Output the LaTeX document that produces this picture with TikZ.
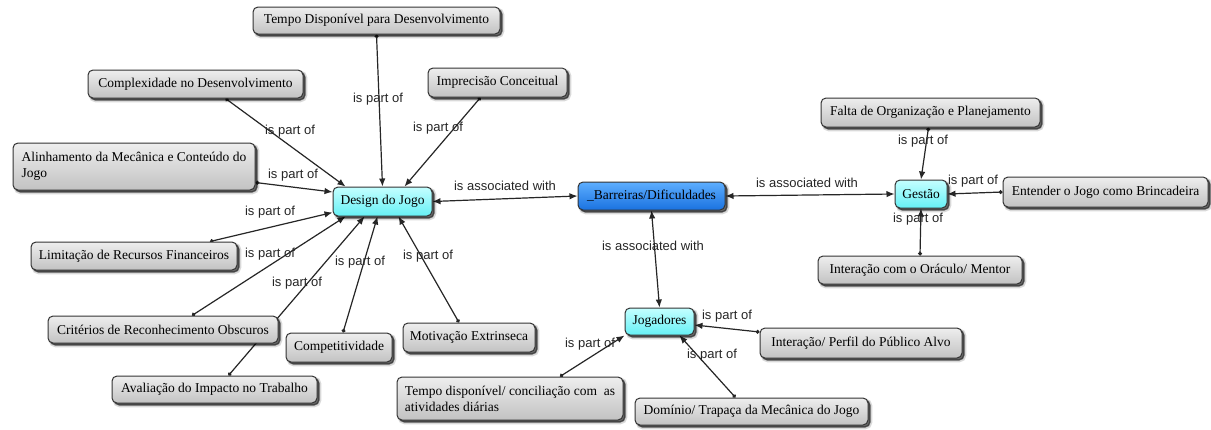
\documentclass[tikz,border=0pt]{standalone}
\usepackage{fontspec}
\usetikzlibrary{arrows.meta}
\newfontfamily\boxfamily{Liberation Serif}
\newfontfamily\lblfamily{Liberation Sans}
\pgfdeclarelayer{paper}
\pgfdeclarelayer{links}
\pgfsetlayers{paper,links,main}
\definecolor{grayTop}{HTML}{EEEEEE}
\definecolor{grayBot}{HTML}{C2C2C2}
\definecolor{cyanTop}{HTML}{C4FFFF}
\definecolor{cyanBot}{HTML}{66F0F5}
\definecolor{blueTop}{HTML}{5DAEFF}
\definecolor{blueBot}{HTML}{1A72E0}
\definecolor{edge}{HTML}{333333}
\tikzset{
  softshadow/.style={
    preaction={draw=black, draw opacity=0.15, line width=3.5pt,
      fill=black, fill opacity=0.3,
      transform canvas={shift={(2.5pt,-2.5pt)}}},
    preaction={draw=black, draw opacity=0.35, line width=1.2pt,
      fill=black, fill opacity=0.4,
      transform canvas={shift={(2pt,-2pt)}}}},
  concept/.style={rectangle, rounded corners=5pt, draw=edge, line width=1pt,
    softshadow, top color=grayTop, bottom color=grayBot,
    font=\boxfamily\fontsize{13.5}{16}\selectfont, text=black,
    inner sep=0pt, align=center},
  focus/.style={concept, top color=cyanTop, bottom color=cyanBot},
  hub/.style={concept, top color=blueTop, bottom color=blueBot},
  link/.style={line width=1.2pt, draw=black!85,
    {Circle[length=3.8pt]}-{Latex[length=8pt,width=6.5pt]}},
  twoway/.style={line width=1.2pt, draw=black!85,
    {Latex[length=8pt,width=6.5pt]}-{Latex[length=8pt,width=6.5pt]}},
  lbl/.style={font=\lblfamily\fontsize{13}{15}\selectfont, text=black!85, inner sep=0pt}
}
\begin{document}
\begin{tikzpicture}[x=1pt,y=-1pt]
\begin{pgfonlayer}{paper}
\fill[white] (0,0) rectangle (1211,429);
\end{pgfonlayer}
\useasboundingbox (0,0) rectangle (1211,429);

% concepts
\node[concept, minimum width=247pt, minimum height=27pt] (tdd) at (376.5,20.5) {Tempo Disponível para Desenvolvimento};
\node[concept, minimum width=215pt, minimum height=28pt] (cdd) at (195.5,84) {Complexidade no Desenvolvimento};
\node[concept, minimum width=139pt, minimum height=29pt] (imp) at (497.5,82.5) {Imprecisão Conceitual};
\node[concept, minimum width=242pt, minimum height=47pt, align=left] (ali) at (134,166.5) {Alinhamento da Mecânica e Conteúdo do\\Jogo};
\node[focus, minimum width=99pt, minimum height=29pt] (dj) at (382.5,201.5) {Design do Jogo};
\node[hub, minimum width=147pt, minimum height=28pt] (bar) at (651.5,196) {\_Barreiras/Dificuldades};
\node[focus, minimum width=52pt, minimum height=28pt] (ges) at (921,194) {Gestão};
\node[concept, minimum width=219pt, minimum height=29pt] (fop) at (930.5,112.5) {Falta de Organização e Planejamento};
\node[concept, minimum width=205pt, minimum height=30pt] (ejb) at (1105.5,192) {Entender o Jogo como Brincadeira};
\node[concept, minimum width=204pt, minimum height=28pt] (iom) at (920,270) {Interação com o Oráculo/ Mentor};
\node[concept, minimum width=206pt, minimum height=28pt] (lrf) at (134,256) {Limitação de Recursos Financeiros};
\node[concept, minimum width=230pt, minimum height=27pt] (cro) at (163,329.5) {Critérios de Reconhecimento Obscuros};
\node[concept, minimum width=106pt, minimum height=29pt] (com) at (339,347.5) {Competitividade};
\node[concept, minimum width=132pt, minimum height=29pt] (mot) at (469,337.5) {Motivação Extrinseca};
\node[concept, minimum width=205pt, minimum height=27pt] (ait) at (214.5,389.5) {Avaliação do Impacto no Trabalho};
\node[focus, minimum width=69pt, minimum height=27pt] (jog) at (659.5,321.5) {Jogadores};
\node[concept, minimum width=202pt, minimum height=30pt] (ipa) at (861,343) {Interação/ Perfil do Público Alvo};
\node[concept, minimum width=226pt, minimum height=43pt, align=left] (tdc) at (510,398.5) {Tempo disponível/ conciliação com~ as\\atividades diárias};
\node[concept, minimum width=233pt, minimum height=27pt] (dtm) at (751.5,411.5) {Domínio/ Trapaça da Mecânica do Jogo};

% connectors, drawn beneath the concepts
\begin{pgfonlayer}{links}
\draw[link] (tdd.south) -- (dj.north);
\draw[link] ([xshift=30pt]cdd.south) -- ([xshift=-37pt]dj.north);
\draw[link] ([xshift=-17pt]imp.south) -- ([xshift=22pt]dj.north);
\draw[link] ([yshift=-16pt]ali.east) -- ([yshift=9.5pt]dj.west);
\draw[link] ([xshift=76pt]lrf.north) -- ([yshift=-11pt]dj.west);
\draw[link] ([xshift=29pt]cro.north) -- ([xshift=-37pt]dj.south);
\draw[link] ([xshift=14pt]ait.north) -- ([xshift=-18pt]dj.south);
\draw[link] ([xshift=4pt]com.north) -- ([xshift=-5pt]dj.south);
\draw[link] ([xshift=-10pt]mot.north) -- ([xshift=16pt]dj.south);
\draw[twoway] (dj.east) -- (bar.west);
\draw[twoway] (bar.south) -- (jog.north);
\draw[twoway] (bar.east) -- (ges.west);
\draw[link] ([xshift=-2pt]fop.south) -- (ges.north);
\draw[link] (ejb.west) -- (ges.east);
\draw[link] (iom.north) -- (ges.south);
\draw[link] ([yshift=11pt]ipa.west) -- ([yshift=-3.5pt]jog.east);
\draw[link] ([xshift=-16pt]dtm.north) -- ([xshift=20pt]jog.south);
\draw[link] ([xshift=50pt]tdc.north) -- (jog.south west);
\end{pgfonlayer}

% link labels
\node[lbl] (l1) at (378,99) {is part of};
\node[lbl] (l2) at (290,131) {is part of};
\node[lbl] (l3) at (438,128) {is part of};
\node[lbl] (l4) at (293,175) {is part of};
\node[lbl] (l5) at (270,212) {is part of};
\node[lbl] (l6) at (270,254) {is part of};
\node[lbl] (l7) at (297,283) {is part of};
\node[lbl] (l8) at (360,262) {is part of};
\node[lbl] (l9) at (428,256) {is part of};
\node[lbl] (a1) at (505,186) {is associated with};
\node[lbl] (a2) at (653,246) {is associated with};
\node[lbl] (a3) at (807,183) {is associated with};
\node[lbl] (g1) at (923,141) {is part of};
\node[lbl] (g2) at (973,181) {is part of};
\node[lbl] (g3) at (918,219) {is part of};
\node[lbl] (j1) at (727,316) {is part of};
\node[lbl] (j2) at (712,355) {is part of};
\node[lbl] (j3) at (590,344) {is part of};
\end{tikzpicture}
\end{document}
